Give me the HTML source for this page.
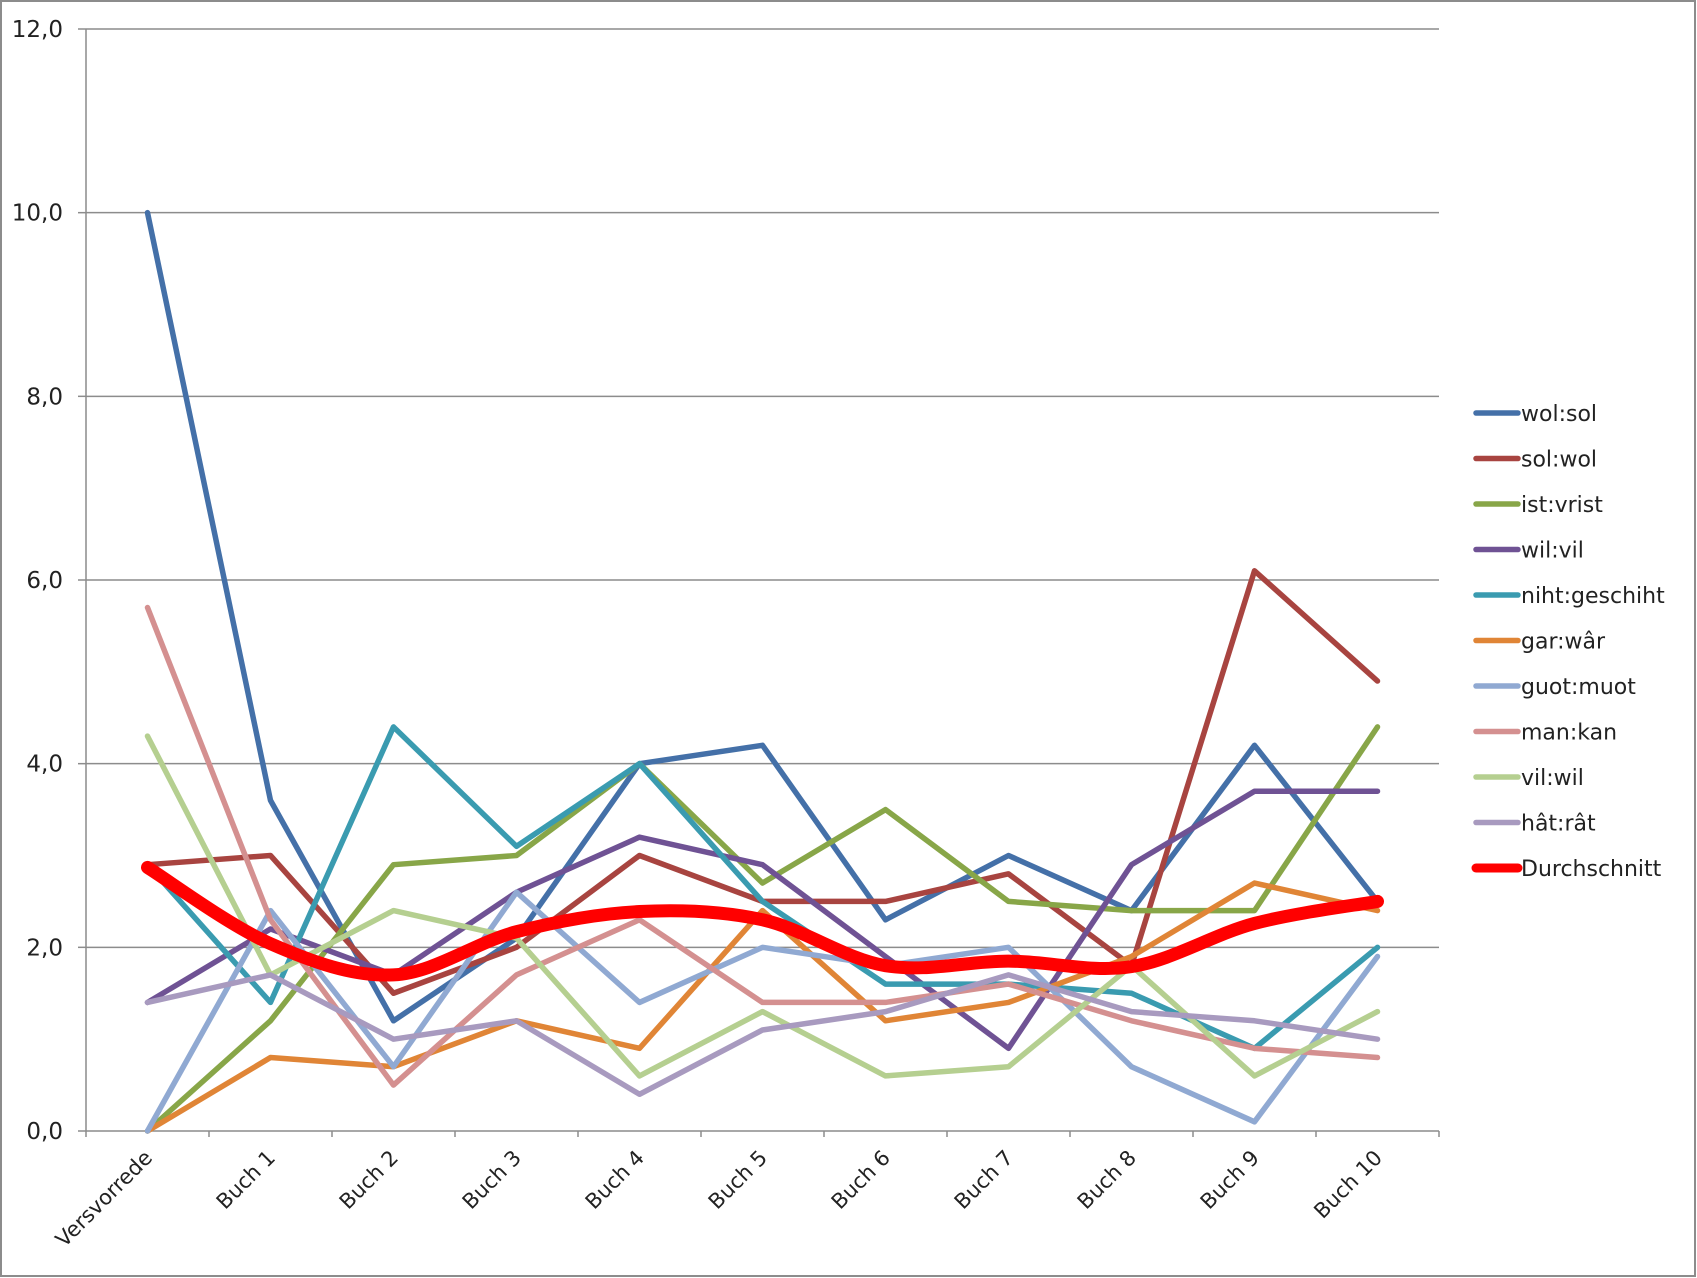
<!DOCTYPE html>
<html><head><meta charset="utf-8"><style>
html,body{margin:0;padding:0;background:#fff}
svg{display:block;font-family:"DejaVu Sans","Liberation Sans",sans-serif}
</style></head><body>
<svg id="chart" width="1697" height="1278" viewBox="0 0 1697 1278" xmlns="http://www.w3.org/2000/svg">
<rect x="1" y="1" width="1694" height="1275" fill="#fff" stroke="#8c8c8c" stroke-width="2"/>
<g id="grid"></g><g id="axes"></g><g id="series"></g><g id="legend"></g>
</svg>
<script>
const categories=["Versvorrede","Buch 1","Buch 2","Buch 3","Buch 4","Buch 5","Buch 6","Buch 7","Buch 8","Buch 9","Buch 10"];
const yTicks=[0,2,4,6,8,10,12];
const yTickLabels=["0,0","2,0","4,0","6,0","8,0","10,0","12,0"];
const seriesNames=["wol:sol","sol:wol","ist:vrist","wil:vil","niht:geschiht","gar:wâr","guot:muot","man:kan","vil:wil","hât:rât","Durchschnitt"];
const seriesColors=["#4470a8","#a84440","#88a648","#6f5294","#3a9bb0","#e08536","#90a9d2","#d49090","#b5cf90","#a89abf","#ff0000"];
const wolSol=[10,3.6,1.2,2.1,4.0,4.2,2.3,3.0,2.4,4.2,2.5];
const solWol=[2.9,3.0,1.5,2.0,3.0,2.5,2.5,2.8,1.8,6.1,4.9];
const istVrist=[0,1.2,2.9,3.0,4.0,2.7,3.5,2.5,2.4,2.4,4.4];
const wilVil=[1.4,2.2,1.7,2.6,3.2,2.9,1.9,0.9,2.9,3.7,3.7];
const nihtGeschiht=[2.9,1.4,4.4,3.1,4.0,2.5,1.6,1.6,1.5,0.9,2.0];
const garWar=[0,0.8,0.7,1.2,0.9,2.4,1.2,1.4,1.9,2.7,2.4];
const guotMuot=[0,2.4,0.7,2.6,1.4,2.0,1.8,2.0,0.7,0.1,1.9];
const manKan=[5.7,2.3,0.5,1.7,2.3,1.4,1.4,1.6,1.2,0.9,0.8];
const vilWil=[4.3,1.7,2.4,2.1,0.6,1.3,0.6,0.7,1.8,0.6,1.3];
const hatRat=[1.4,1.7,1.0,1.2,0.4,1.1,1.3,1.7,1.3,1.2,1.0];
const durchschnitt=[2.87,2.04,1.7,2.17,2.39,2.3,1.8,1.85,1.79,2.26,2.5];
const seriesData=[wolSol,solWol,istVrist,wilVil,nihtGeschiht,garWar,guotMuot,manKan,vilWil,hatRat,durchschnitt];

const NS="http://www.w3.org/2000/svg";
const L=86,R=1439,T=29,B=1131,yMax=12;
const bw=(R-L)/categories.length;
const xs=i=>L+bw*(i+0.5);
const ys=v=>B-(v/yMax)*(B-T);
function mk(tag,attrs,parent){const e=document.createElementNS(NS,tag);for(const k in attrs)e.setAttribute(k,attrs[k]);parent.appendChild(e);return e;}
const grid=document.getElementById('grid'),axes=document.getElementById('axes'),ser=document.getElementById('series'),leg=document.getElementById('legend');

yTicks.forEach((t,i)=>{
  const y=ys(t);
  if(t>0){const g=mk('line',{x1:L,x2:R,y1:y,y2:y,stroke:'#8c8c8c','stroke-width':1.5},grid);
  
  }
  const tk=mk('line',{x1:L-8,x2:L,y1:y,y2:y,stroke:'#8c8c8c','stroke-width':1.5},axes);
  
  
  const tx=mk('text',{x:63,y:y+8,'text-anchor':'end','font-size':23,fill:'#222'},axes);
  tx.textContent=yTickLabels[i];
  
  
});
const ya=mk('line',{x1:L,x2:L,y1:T,y2:B,stroke:'#8c8c8c','stroke-width':1.5},axes);


const xa=mk('line',{x1:L,x2:R,y1:B,y2:B,stroke:'#8c8c8c','stroke-width':1.5},axes);


for(let i=0;i<=categories.length;i++){
  const x=L+bw*i;
  const tk=mk('line',{x1:x,x2:x,y1:B,y2:B+6,stroke:'#8c8c8c','stroke-width':1.5},axes);
  
  
}
categories.forEach((c,i)=>{
  const x=xs(i)+6,y=B+28;
  const t=mk('text',{x:x,y:y,'text-anchor':'end','font-size':21,fill:'#222',transform:`rotate(-45 ${x} ${y})`},axes);
  t.textContent=c;
  
  
});

function smoothPath(pts){
  let d=`M${pts[0][0]},${pts[0][1]}`;
  for(let i=0;i<pts.length-1;i++){
    const p0=pts[i-1]||pts[i],p1=pts[i],p2=pts[i+1],p3=pts[i+2]||p2;
    const c1=[p1[0]+(p2[0]-p0[0])/6,p1[1]+(p2[1]-p0[1])/6];
    const c2=[p2[0]-(p3[0]-p1[0])/6,p2[1]-(p3[1]-p1[1])/6];
    d+=` C${c1[0]},${c1[1]} ${c2[0]},${c2[1]} ${p2[0]},${p2[1]}`;
  }
  return d;
}
seriesData.forEach((arr,si)=>{
  const pts=arr.map((v,i)=>[xs(i),ys(v)]);
  const avg=si===seriesData.length-1;
  const d=avg?smoothPath(pts):'M'+pts.map(p=>p.join(',')).join(' L');
  const p=mk('path',{d:d,fill:'none',stroke:seriesColors[si],'stroke-width':avg?13:5.5,'stroke-linejoin':'round','stroke-linecap':'round'},ser);
  
  
  const ly=413+si*45.5;
  const g=mk('g',{},leg);
  
  
  mk('line',{x1:1476,x2:1518,y1:ly,y2:ly,stroke:seriesColors[si],'stroke-width':avg?9:5.5,'stroke-linecap':'round'},g);
  const t=mk('text',{x:1521,y:ly+8,'font-size':22,fill:'#222'},g);
  t.textContent=seriesNames[si];
});
</script>
</body></html>
